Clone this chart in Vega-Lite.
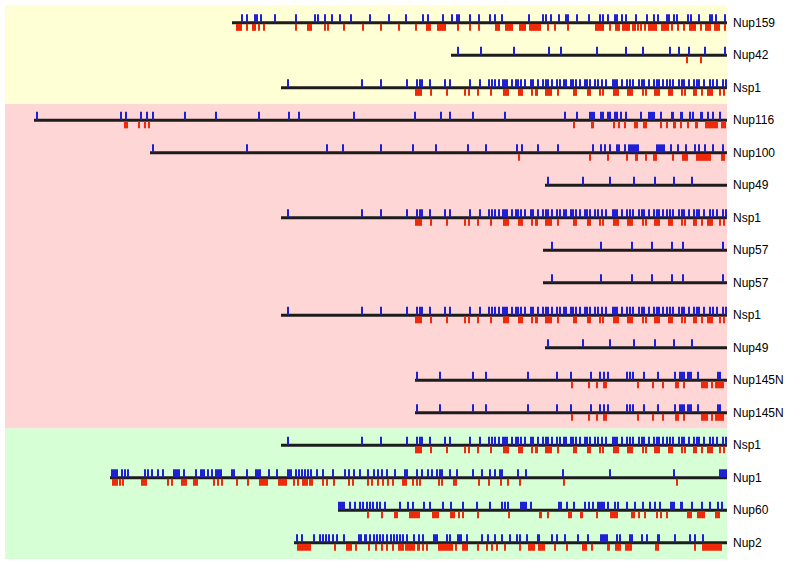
{
"$schema":"https://vega.github.io/schema/vega-lite/v6.json",
"width":722,"height":554,
"autosize":{"type":"none"},
"padding":{"left":5,"top":5,"right":60,"bottom":6},
"background":"white",
"config":{"view":{"stroke":null}},
"datasets":{
"bands":[{"g":"a","from":-0.55,"to":2.5},{"g":"b","from":2.5,"to":12.48},{"g":"c","from":12.48,"to":16.5}],
"proteins":[
{"p":"Nup159","start":232,"end":727,"rows":[0]},
{"p":"Nup42","start":451,"end":727,"rows":[1]},
{"p":"Nsp1","start":281,"end":727,"rows":[2,6,9,13]},
{"p":"Nup116","start":34,"end":727,"rows":[3]},
{"p":"Nup100","start":149.5,"end":727,"rows":[4]},
{"p":"Nup49","start":545,"end":727,"rows":[5,10]},
{"p":"Nup57","start":542.5,"end":727,"rows":[7,8]},
{"p":"Nup145N","start":414.5,"end":727,"rows":[11,12]},
{"p":"Nup1","start":109.5,"end":727,"rows":[14]},
{"p":"Nup60","start":337.5,"end":727,"rows":[15]},
{"p":"Nup2","start":294,"end":727,"rows":[16]}
],
"ticks":[
{"p":"Nup159","k":"b","x":242},{"p":"Nup159","k":"b","x":247.3},{"p":"Nup159","k":"b","x":255.3},{"p":"Nup159","k":"b","x":257.3},{"p":"Nup159","k":"b","x":261.3},{"p":"Nup159","k":"b","x":275.3},{"p":"Nup159","k":"b","x":295.7},{"p":"Nup159","k":"b","x":314.7},{"p":"Nup159","k":"b","x":318},{"p":"Nup159","k":"b","x":324.7},{"p":"Nup159","k":"b","x":332.3},{"p":"Nup159","k":"b","x":340.3},{"p":"Nup159","k":"b","x":350.7},{"p":"Nup159","k":"b","x":369.7},{"p":"Nup159","k":"b","x":388.7},{"p":"Nup159","k":"b","x":405.7},{"p":"Nup159","k":"b","x":423},{"p":"Nup159","k":"b","x":428.3},{"p":"Nup159","k":"b","x":442.7},{"p":"Nup159","k":"b","x":452},{"p":"Nup159","k":"b","x":456.7},{"p":"Nup159","k":"b","x":458.7},{"p":"Nup159","k":"b","x":470.3},{"p":"Nup159","k":"b","x":478.7},{"p":"Nup159","k":"b","x":489.7},{"p":"Nup159","k":"b","x":495.3},{"p":"Nup159","k":"b","x":502.3},{"p":"Nup159","k":"b","x":529},{"p":"Nup159","k":"b","x":543},{"p":"Nup159","k":"b","x":546.3},{"p":"Nup159","k":"b","x":551},{"p":"Nup159","k":"b","x":558.7},{"p":"Nup159","k":"b","x":566.3},{"p":"Nup159","k":"b","x":568},{"p":"Nup159","k":"b","x":577},{"p":"Nup159","k":"b","x":588.7},{"p":"Nup159","k":"b","x":599.7},{"p":"Nup159","k":"b","x":603},{"p":"Nup159","k":"b","x":608},{"p":"Nup159","k":"b","x":614.7},{"p":"Nup159","k":"b","x":616.7},{"p":"Nup159","k":"b","x":622},{"p":"Nup159","k":"b","x":626.3},{"p":"Nup159","k":"b","x":636.3},{"p":"Nup159","k":"b","x":647.3},{"p":"Nup159","k":"b","x":654},{"p":"Nup159","k":"b","x":658.3},{"p":"Nup159","k":"b","x":667.3},{"p":"Nup159","k":"b","x":669.3},{"p":"Nup159","k":"b","x":674},{"p":"Nup159","k":"b","x":677.3},{"p":"Nup159","k":"b","x":688},{"p":"Nup159","k":"b","x":690.7},{"p":"Nup159","k":"b","x":698.7},{"p":"Nup159","k":"b","x":709.7},{"p":"Nup159","k":"b","x":711.7},{"p":"Nup159","k":"b","x":715.7},{"p":"Nup159","k":"b","x":724.7},
{"p":"Nup159","k":"r","x":246.7},{"p":"Nup159","k":"r","x":259},{"p":"Nup159","k":"r","x":264},{"p":"Nup159","k":"r","x":296.3},{"p":"Nup159","k":"r","x":324.7},{"p":"Nup159","k":"r","x":328},{"p":"Nup159","k":"r","x":343.7},{"p":"Nup159","k":"r","x":363},{"p":"Nup159","k":"r","x":381.3},{"p":"Nup159","k":"r","x":399},{"p":"Nup159","k":"r","x":415.7},{"p":"Nup159","k":"r","x":458},{"p":"Nup159","k":"r","x":470.3},{"p":"Nup159","k":"r","x":478.7},{"p":"Nup159","k":"r","x":529.7},{"p":"Nup159","k":"r","x":548},{"p":"Nup159","k":"r","x":555.3},{"p":"Nup159","k":"r","x":568},{"p":"Nup159","k":"r","x":609.7},{"p":"Nup159","k":"r","x":638},{"p":"Nup159","k":"r","x":641.3},{"p":"Nup159","k":"r","x":644.7},{"p":"Nup159","k":"r","x":672},{"p":"Nup159","k":"r","x":678},{"p":"Nup159","k":"r","x":684},{"p":"Nup159","k":"r","x":700.7},{"p":"Nup159","k":"r","x":724.7},
{"p":"Nup159","k":"r","x":236.3,"x2":242},{"p":"Nup159","k":"r","x":252,"x2":256},{"p":"Nup159","k":"r","x":306.7,"x2":312},{"p":"Nup159","k":"r","x":425.7,"x2":430.7},{"p":"Nup159","k":"r","x":437.3,"x2":446.3},{"p":"Nup159","k":"r","x":494.7,"x2":499.7},{"p":"Nup159","k":"r","x":505.3,"x2":513},{"p":"Nup159","k":"r","x":518.7,"x2":526.3},{"p":"Nup159","k":"r","x":531.3,"x2":541.3},{"p":"Nup159","k":"r","x":595.3,"x2":604},{"p":"Nup159","k":"r","x":614.7,"x2":619.7},{"p":"Nup159","k":"r","x":622,"x2":629.7},{"p":"Nup159","k":"r","x":632,"x2":636.3},{"p":"Nup159","k":"r","x":648,"x2":657.3},{"p":"Nup159","k":"r","x":660.7,"x2":668.7},{"p":"Nup159","k":"r","x":688.7,"x2":696.3},{"p":"Nup159","k":"r","x":704.7,"x2":711.3},{"p":"Nup159","k":"r","x":714,"x2":719.7},
{"p":"Nup42","k":"b","x":458},{"p":"Nup42","k":"b","x":480.7},{"p":"Nup42","k":"b","x":514},{"p":"Nup42","k":"b","x":548.7},{"p":"Nup42","k":"b","x":561.3},{"p":"Nup42","k":"b","x":597.3},{"p":"Nup42","k":"b","x":626.3},{"p":"Nup42","k":"b","x":643},{"p":"Nup42","k":"b","x":669.7},{"p":"Nup42","k":"b","x":679},{"p":"Nup42","k":"b","x":689.3},{"p":"Nup42","k":"b","x":705.3},{"p":"Nup42","k":"b","x":725.3},
{"p":"Nup42","k":"r","x":687.3},{"p":"Nup42","k":"r","x":700.7},
{"p":"Nsp1","k":"b","x":288},{"p":"Nsp1","k":"b","x":362.3},{"p":"Nsp1","k":"b","x":380.7},{"p":"Nsp1","k":"b","x":407.3},{"p":"Nsp1","k":"b","x":417.3},{"p":"Nsp1","k":"b","x":419.7},{"p":"Nsp1","k":"b","x":422.3},{"p":"Nsp1","k":"b","x":430.3},{"p":"Nsp1","k":"b","x":444.7},{"p":"Nsp1","k":"b","x":449.7},{"p":"Nsp1","k":"b","x":470.3},{"p":"Nsp1","k":"b","x":480},{"p":"Nsp1","k":"b","x":489.3},{"p":"Nsp1","k":"b","x":492.3},{"p":"Nsp1","k":"b","x":495.3},{"p":"Nsp1","k":"b","x":498.7},{"p":"Nsp1","k":"b","x":502.7},{"p":"Nsp1","k":"b","x":505},{"p":"Nsp1","k":"b","x":507.3},{"p":"Nsp1","k":"b","x":511.7},{"p":"Nsp1","k":"b","x":516},{"p":"Nsp1","k":"b","x":518.3},{"p":"Nsp1","k":"b","x":520.7},{"p":"Nsp1","k":"b","x":525},{"p":"Nsp1","k":"b","x":530.7},{"p":"Nsp1","k":"b","x":533.3},{"p":"Nsp1","k":"b","x":538.3},{"p":"Nsp1","k":"b","x":543.3},{"p":"Nsp1","k":"b","x":545.7},{"p":"Nsp1","k":"b","x":548.3},{"p":"Nsp1","k":"b","x":551.7},{"p":"Nsp1","k":"b","x":556.7},{"p":"Nsp1","k":"b","x":560},{"p":"Nsp1","k":"b","x":564},{"p":"Nsp1","k":"b","x":566},{"p":"Nsp1","k":"b","x":570.7},{"p":"Nsp1","k":"b","x":573.3},{"p":"Nsp1","k":"b","x":576},{"p":"Nsp1","k":"b","x":580},{"p":"Nsp1","k":"b","x":585},{"p":"Nsp1","k":"b","x":587.3},{"p":"Nsp1","k":"b","x":590},{"p":"Nsp1","k":"b","x":595},{"p":"Nsp1","k":"b","x":598.3},{"p":"Nsp1","k":"b","x":601.7},{"p":"Nsp1","k":"b","x":606},{"p":"Nsp1","k":"b","x":612.7},{"p":"Nsp1","k":"b","x":615},{"p":"Nsp1","k":"b","x":617.3},{"p":"Nsp1","k":"b","x":621.7},{"p":"Nsp1","k":"b","x":627.3},{"p":"Nsp1","k":"b","x":630},{"p":"Nsp1","k":"b","x":632.7},{"p":"Nsp1","k":"b","x":639.3},{"p":"Nsp1","k":"b","x":641.7},{"p":"Nsp1","k":"b","x":644},{"p":"Nsp1","k":"b","x":649.3},{"p":"Nsp1","k":"b","x":654},{"p":"Nsp1","k":"b","x":656.7},{"p":"Nsp1","k":"b","x":659.3},{"p":"Nsp1","k":"b","x":663.3},{"p":"Nsp1","k":"b","x":667.3},{"p":"Nsp1","k":"b","x":670},{"p":"Nsp1","k":"b","x":672.7},{"p":"Nsp1","k":"b","x":679.3},{"p":"Nsp1","k":"b","x":681.7},{"p":"Nsp1","k":"b","x":684},{"p":"Nsp1","k":"b","x":689.3},{"p":"Nsp1","k":"b","x":694},{"p":"Nsp1","k":"b","x":696.7},{"p":"Nsp1","k":"b","x":699.3},{"p":"Nsp1","k":"b","x":704},{"p":"Nsp1","k":"b","x":710},{"p":"Nsp1","k":"b","x":712.7},{"p":"Nsp1","k":"b","x":716.7},{"p":"Nsp1","k":"b","x":722.7},{"p":"Nsp1","k":"b","x":726},
{"p":"Nsp1","k":"r","x":431.3},{"p":"Nsp1","k":"r","x":447.3},{"p":"Nsp1","k":"r","x":464.7},{"p":"Nsp1","k":"r","x":468.7},{"p":"Nsp1","k":"r","x":478},{"p":"Nsp1","k":"r","x":491.3},{"p":"Nsp1","k":"r","x":531.7},{"p":"Nsp1","k":"r","x":558.3},{"p":"Nsp1","k":"r","x":600},{"p":"Nsp1","k":"r","x":603.3},{"p":"Nsp1","k":"r","x":642.7},{"p":"Nsp1","k":"r","x":646},{"p":"Nsp1","k":"r","x":681.7},{"p":"Nsp1","k":"r","x":685},{"p":"Nsp1","k":"r","x":701.7},{"p":"Nsp1","k":"r","x":720},{"p":"Nsp1","k":"r","x":724},
{"p":"Nsp1","k":"r","x":415.3,"x2":422},{"p":"Nsp1","k":"r","x":503.3,"x2":509.3},{"p":"Nsp1","k":"r","x":518.3,"x2":522.7},{"p":"Nsp1","k":"r","x":534.5,"x2":538},{"p":"Nsp1","k":"r","x":545,"x2":551.7},{"p":"Nsp1","k":"r","x":572.7,"x2":577.3},{"p":"Nsp1","k":"r","x":587.3,"x2":590.7},{"p":"Nsp1","k":"r","x":613.3,"x2":619.3},{"p":"Nsp1","k":"r","x":627.3,"x2":633.3},{"p":"Nsp1","k":"r","x":654,"x2":660},{"p":"Nsp1","k":"r","x":668.3,"x2":673.3},{"p":"Nsp1","k":"r","x":693.3,"x2":696.7},{"p":"Nsp1","k":"r","x":707.3,"x2":713.3},
{"p":"Nup116","k":"b","x":37.3},{"p":"Nup116","k":"b","x":120.7},{"p":"Nup116","k":"b","x":126.3},{"p":"Nup116","k":"b","x":140.7},{"p":"Nup116","k":"b","x":146.7},{"p":"Nup116","k":"b","x":152.7},{"p":"Nup116","k":"b","x":184.7},{"p":"Nup116","k":"b","x":216},{"p":"Nup116","k":"b","x":259},{"p":"Nup116","k":"b","x":288.7},{"p":"Nup116","k":"b","x":298.7},{"p":"Nup116","k":"b","x":353.7},{"p":"Nup116","k":"b","x":414.7},{"p":"Nup116","k":"b","x":441.3},{"p":"Nup116","k":"b","x":449.7},{"p":"Nup116","k":"b","x":473},{"p":"Nup116","k":"b","x":504.7},{"p":"Nup116","k":"b","x":564.7},{"p":"Nup116","k":"b","x":577},{"p":"Nup116","k":"b","x":600.7},{"p":"Nup116","k":"b","x":603},{"p":"Nup116","k":"b","x":608},{"p":"Nup116","k":"b","x":610.3},{"p":"Nup116","k":"b","x":615.3},{"p":"Nup116","k":"b","x":617.3},{"p":"Nup116","k":"b","x":620.7},{"p":"Nup116","k":"b","x":626.3},{"p":"Nup116","k":"b","x":641.3},{"p":"Nup116","k":"b","x":661.3},{"p":"Nup116","k":"b","x":689.7},{"p":"Nup116","k":"b","x":693},{"p":"Nup116","k":"b","x":708},{"p":"Nup116","k":"b","x":713},{"p":"Nup116","k":"b","x":719.7},
{"p":"Nup116","k":"b","x":588.7,"x2":594.7},{"p":"Nup116","k":"b","x":648,"x2":654.7},{"p":"Nup116","k":"b","x":670.5,"x2":673.5},{"p":"Nup116","k":"b","x":679.7,"x2":683},{"p":"Nup116","k":"b","x":699.7,"x2":703},
{"p":"Nup116","k":"r","x":139.3},{"p":"Nup116","k":"r","x":144.7},{"p":"Nup116","k":"r","x":148.7},{"p":"Nup116","k":"r","x":574},{"p":"Nup116","k":"r","x":614},{"p":"Nup116","k":"r","x":618.7},{"p":"Nup116","k":"r","x":624.7},{"p":"Nup116","k":"r","x":660.7},{"p":"Nup116","k":"r","x":667.3},{"p":"Nup116","k":"r","x":681.3},{"p":"Nup116","k":"r","x":688},
{"p":"Nup116","k":"r","x":124,"x2":128},{"p":"Nup116","k":"r","x":591.3,"x2":594},{"p":"Nup116","k":"r","x":634,"x2":638},{"p":"Nup116","k":"r","x":643,"x2":647.3},{"p":"Nup116","k":"r","x":673,"x2":676.3},{"p":"Nup116","k":"r","x":695.3,"x2":698},{"p":"Nup116","k":"r","x":704.7,"x2":718},{"p":"Nup116","k":"r","x":721.3,"x2":726.3},
{"p":"Nup100","k":"b","x":153},{"p":"Nup100","k":"b","x":247.3},{"p":"Nup100","k":"b","x":327},{"p":"Nup100","k":"b","x":342.7},{"p":"Nup100","k":"b","x":380.7},{"p":"Nup100","k":"b","x":413},{"p":"Nup100","k":"b","x":436.3},{"p":"Nup100","k":"b","x":468},{"p":"Nup100","k":"b","x":485.7},{"p":"Nup100","k":"b","x":517.3},{"p":"Nup100","k":"b","x":522},{"p":"Nup100","k":"b","x":538},{"p":"Nup100","k":"b","x":558},{"p":"Nup100","k":"b","x":593},{"p":"Nup100","k":"b","x":601.3},{"p":"Nup100","k":"b","x":605.3},{"p":"Nup100","k":"b","x":609.7},{"p":"Nup100","k":"b","x":624.7},{"p":"Nup100","k":"b","x":671.3},{"p":"Nup100","k":"b","x":678},{"p":"Nup100","k":"b","x":685.7},{"p":"Nup100","k":"b","x":694.7},{"p":"Nup100","k":"b","x":698.7},{"p":"Nup100","k":"b","x":704.7},{"p":"Nup100","k":"b","x":713},{"p":"Nup100","k":"b","x":723},
{"p":"Nup100","k":"b","x":616.3,"x2":619.7},{"p":"Nup100","k":"b","x":628,"x2":638.7},{"p":"Nup100","k":"b","x":656.3,"x2":665.3},
{"p":"Nup100","k":"r","x":519},{"p":"Nup100","k":"r","x":589.7},{"p":"Nup100","k":"r","x":608},{"p":"Nup100","k":"r","x":627.3},{"p":"Nup100","k":"r","x":645.7},{"p":"Nup100","k":"r","x":673},
{"p":"Nup100","k":"r","x":634.7,"x2":638},{"p":"Nup100","k":"r","x":653,"x2":657.3},{"p":"Nup100","k":"r","x":682,"x2":688},{"p":"Nup100","k":"r","x":696.3,"x2":711.3},{"p":"Nup100","k":"r","x":721.3,"x2":724.7},
{"p":"Nup49","k":"b","x":548.3},{"p":"Nup49","k":"b","x":582.7},{"p":"Nup49","k":"b","x":610},{"p":"Nup49","k":"b","x":634},{"p":"Nup49","k":"b","x":655},{"p":"Nup49","k":"b","x":674.3},{"p":"Nup49","k":"b","x":691.7},
{"p":"Nup57","k":"b","x":552.3},{"p":"Nup57","k":"b","x":600.7},{"p":"Nup57","k":"b","x":632.3},{"p":"Nup57","k":"b","x":651.7},{"p":"Nup57","k":"b","x":672.3},{"p":"Nup57","k":"b","x":683.3},{"p":"Nup57","k":"b","x":722.7},
{"p":"Nup145N","k":"b","x":416.7},{"p":"Nup145N","k":"b","x":440},{"p":"Nup145N","k":"b","x":472.7},{"p":"Nup145N","k":"b","x":486},{"p":"Nup145N","k":"b","x":527.7},{"p":"Nup145N","k":"b","x":556.7},{"p":"Nup145N","k":"b","x":570.7},{"p":"Nup145N","k":"b","x":591},{"p":"Nup145N","k":"b","x":600},{"p":"Nup145N","k":"b","x":604.3},{"p":"Nup145N","k":"b","x":608.3},{"p":"Nup145N","k":"b","x":626.7},{"p":"Nup145N","k":"b","x":630},{"p":"Nup145N","k":"b","x":633.3},{"p":"Nup145N","k":"b","x":644},{"p":"Nup145N","k":"b","x":657.7},{"p":"Nup145N","k":"b","x":675},{"p":"Nup145N","k":"b","x":698.3},
{"p":"Nup145N","k":"b","x":679.3,"x2":685},{"p":"Nup145N","k":"b","x":686.7,"x2":691.7},{"p":"Nup145N","k":"b","x":716.7,"x2":720.7},
{"p":"Nup145N","k":"r","x":572.3},{"p":"Nup145N","k":"r","x":589},{"p":"Nup145N","k":"r","x":597.3},{"p":"Nup145N","k":"r","x":638.3},{"p":"Nup145N","k":"r","x":653.3},{"p":"Nup145N","k":"r","x":663.3},{"p":"Nup145N","k":"r","x":684},{"p":"Nup145N","k":"r","x":711.7},
{"p":"Nup145N","k":"r","x":602.7,"x2":607.3},{"p":"Nup145N","k":"r","x":675,"x2":679.3},{"p":"Nup145N","k":"r","x":700.7,"x2":708.3},{"p":"Nup145N","k":"r","x":715,"x2":724},
{"p":"Nup1","k":"b","x":122.3},{"p":"Nup1","k":"b","x":125},{"p":"Nup1","k":"b","x":128.3},{"p":"Nup1","k":"b","x":145},{"p":"Nup1","k":"b","x":148.3},{"p":"Nup1","k":"b","x":151.7},{"p":"Nup1","k":"b","x":157.7},{"p":"Nup1","k":"b","x":163.3},{"p":"Nup1","k":"b","x":179},{"p":"Nup1","k":"b","x":184.3},{"p":"Nup1","k":"b","x":196},{"p":"Nup1","k":"b","x":208.3},{"p":"Nup1","k":"b","x":211.7},{"p":"Nup1","k":"b","x":246.7},{"p":"Nup1","k":"b","x":269},{"p":"Nup1","k":"b","x":276.7},{"p":"Nup1","k":"b","x":295.7},{"p":"Nup1","k":"b","x":299},{"p":"Nup1","k":"b","x":302.3},{"p":"Nup1","k":"b","x":305},{"p":"Nup1","k":"b","x":307.7},{"p":"Nup1","k":"b","x":311},{"p":"Nup1","k":"b","x":316.7},{"p":"Nup1","k":"b","x":323.3},{"p":"Nup1","k":"b","x":332.7},{"p":"Nup1","k":"b","x":345},{"p":"Nup1","k":"b","x":349},{"p":"Nup1","k":"b","x":354.3},{"p":"Nup1","k":"b","x":360},{"p":"Nup1","k":"b","x":368.3},{"p":"Nup1","k":"b","x":374.3},{"p":"Nup1","k":"b","x":378.3},{"p":"Nup1","k":"b","x":381.7},{"p":"Nup1","k":"b","x":387.3},{"p":"Nup1","k":"b","x":395},{"p":"Nup1","k":"b","x":416.7},{"p":"Nup1","k":"b","x":421.7},{"p":"Nup1","k":"b","x":428.3},{"p":"Nup1","k":"b","x":431.7},{"p":"Nup1","k":"b","x":436.7},{"p":"Nup1","k":"b","x":440},{"p":"Nup1","k":"b","x":441.7},{"p":"Nup1","k":"b","x":450},{"p":"Nup1","k":"b","x":456.7},{"p":"Nup1","k":"b","x":473.3},{"p":"Nup1","k":"b","x":481.7},{"p":"Nup1","k":"b","x":490},{"p":"Nup1","k":"b","x":495},{"p":"Nup1","k":"b","x":517.7},{"p":"Nup1","k":"b","x":525.7},{"p":"Nup1","k":"b","x":563.3},{"p":"Nup1","k":"b","x":610},{"p":"Nup1","k":"b","x":674.3},
{"p":"Nup1","k":"b","x":111,"x2":117.7},{"p":"Nup1","k":"b","x":173.3,"x2":177.7},{"p":"Nup1","k":"b","x":200,"x2":205},{"p":"Nup1","k":"b","x":215,"x2":221.7},{"p":"Nup1","k":"b","x":231,"x2":235},{"p":"Nup1","k":"b","x":255,"x2":261},{"p":"Nup1","k":"b","x":286.7,"x2":291.7},{"p":"Nup1","k":"b","x":404.3,"x2":408.3},{"p":"Nup1","k":"b","x":499.5,"x2":503},{"p":"Nup1","k":"b","x":719,"x2":727},
{"p":"Nup1","k":"r","x":120},{"p":"Nup1","k":"r","x":123.3},{"p":"Nup1","k":"r","x":167.7},{"p":"Nup1","k":"r","x":171.7},{"p":"Nup1","k":"r","x":214.3},{"p":"Nup1","k":"r","x":217.7},{"p":"Nup1","k":"r","x":222.3},{"p":"Nup1","k":"r","x":236.7},{"p":"Nup1","k":"r","x":247.7},{"p":"Nup1","k":"r","x":294.3},{"p":"Nup1","k":"r","x":298.3},{"p":"Nup1","k":"r","x":323.3},{"p":"Nup1","k":"r","x":326.7},{"p":"Nup1","k":"r","x":334.3},{"p":"Nup1","k":"r","x":349},{"p":"Nup1","k":"r","x":353.3},{"p":"Nup1","k":"r","x":368.3},{"p":"Nup1","k":"r","x":371.7},{"p":"Nup1","k":"r","x":377.7},{"p":"Nup1","k":"r","x":383.3},{"p":"Nup1","k":"r","x":388.3},{"p":"Nup1","k":"r","x":393.3},{"p":"Nup1","k":"r","x":413.3},{"p":"Nup1","k":"r","x":416.7},{"p":"Nup1","k":"r","x":420},{"p":"Nup1","k":"r","x":439},{"p":"Nup1","k":"r","x":441.7},{"p":"Nup1","k":"r","x":479.3},{"p":"Nup1","k":"r","x":489},{"p":"Nup1","k":"r","x":501},{"p":"Nup1","k":"r","x":508.3},{"p":"Nup1","k":"r","x":520},{"p":"Nup1","k":"r","x":564.3},{"p":"Nup1","k":"r","x":676.7},
{"p":"Nup1","k":"r","x":111.7,"x2":117.7},{"p":"Nup1","k":"r","x":141,"x2":146.7},{"p":"Nup1","k":"r","x":181,"x2":186.7},{"p":"Nup1","k":"r","x":193.3,"x2":198.3},{"p":"Nup1","k":"r","x":259,"x2":267.7},{"p":"Nup1","k":"r","x":277.7,"x2":286.7},{"p":"Nup1","k":"r","x":302.3,"x2":307.7},{"p":"Nup1","k":"r","x":309,"x2":313.3},{"p":"Nup1","k":"r","x":401.7,"x2":406.7},{"p":"Nup1","k":"r","x":453.3,"x2":456.7},
{"p":"Nup60","k":"b","x":350},{"p":"Nup60","k":"b","x":355},{"p":"Nup60","k":"b","x":360},{"p":"Nup60","k":"b","x":363.3},{"p":"Nup60","k":"b","x":366.7},{"p":"Nup60","k":"b","x":370},{"p":"Nup60","k":"b","x":373.3},{"p":"Nup60","k":"b","x":376.7},{"p":"Nup60","k":"b","x":380},{"p":"Nup60","k":"b","x":385},{"p":"Nup60","k":"b","x":400},{"p":"Nup60","k":"b","x":408.3},{"p":"Nup60","k":"b","x":412.7},{"p":"Nup60","k":"b","x":424.3},{"p":"Nup60","k":"b","x":430},{"p":"Nup60","k":"b","x":443.3},{"p":"Nup60","k":"b","x":451},{"p":"Nup60","k":"b","x":463.3},{"p":"Nup60","k":"b","x":476.7},{"p":"Nup60","k":"b","x":490},{"p":"Nup60","k":"b","x":501.7},{"p":"Nup60","k":"b","x":505},{"p":"Nup60","k":"b","x":508.3},{"p":"Nup60","k":"b","x":531},{"p":"Nup60","k":"b","x":566.7},{"p":"Nup60","k":"b","x":574.3},{"p":"Nup60","k":"b","x":585},{"p":"Nup60","k":"b","x":589},{"p":"Nup60","k":"b","x":593.3},{"p":"Nup60","k":"b","x":607.7},{"p":"Nup60","k":"b","x":615},{"p":"Nup60","k":"b","x":618.3},{"p":"Nup60","k":"b","x":626.7},{"p":"Nup60","k":"b","x":635},{"p":"Nup60","k":"b","x":643.3},{"p":"Nup60","k":"b","x":650},{"p":"Nup60","k":"b","x":655},{"p":"Nup60","k":"b","x":660},{"p":"Nup60","k":"b","x":691.7},{"p":"Nup60","k":"b","x":701.7},{"p":"Nup60","k":"b","x":710},{"p":"Nup60","k":"b","x":718.3},{"p":"Nup60","k":"b","x":721.7},
{"p":"Nup60","k":"b","x":338.3,"x2":345},{"p":"Nup60","k":"b","x":520,"x2":526.7},{"p":"Nup60","k":"b","x":557.7,"x2":561.7},{"p":"Nup60","k":"b","x":596.7,"x2":605},{"p":"Nup60","k":"b","x":670,"x2":675},{"p":"Nup60","k":"b","x":680,"x2":683.3},
{"p":"Nup60","k":"r","x":368.3},{"p":"Nup60","k":"r","x":381.7},{"p":"Nup60","k":"r","x":459},{"p":"Nup60","k":"r","x":463.3},{"p":"Nup60","k":"r","x":478.3},{"p":"Nup60","k":"r","x":509},{"p":"Nup60","k":"r","x":548.3},{"p":"Nup60","k":"r","x":596.7},{"p":"Nup60","k":"r","x":639},{"p":"Nup60","k":"r","x":645},{"p":"Nup60","k":"r","x":656.7},{"p":"Nup60","k":"r","x":661},{"p":"Nup60","k":"r","x":666.7},
{"p":"Nup60","k":"r","x":394.3,"x2":398.3},{"p":"Nup60","k":"r","x":409,"x2":420},{"p":"Nup60","k":"r","x":431.7,"x2":439},{"p":"Nup60","k":"r","x":450,"x2":455},{"p":"Nup60","k":"r","x":539,"x2":542.3},{"p":"Nup60","k":"r","x":567.7,"x2":572.3},{"p":"Nup60","k":"r","x":580,"x2":583.3},{"p":"Nup60","k":"r","x":610,"x2":618.3},{"p":"Nup60","k":"r","x":631,"x2":635},{"p":"Nup60","k":"r","x":686.7,"x2":691.7},{"p":"Nup60","k":"r","x":696.7,"x2":705},{"p":"Nup60","k":"r","x":715,"x2":720},
{"p":"Nup2","k":"b","x":296.7},{"p":"Nup2","k":"b","x":301.7},{"p":"Nup2","k":"b","x":314},{"p":"Nup2","k":"b","x":320},{"p":"Nup2","k":"b","x":322.7},{"p":"Nup2","k":"b","x":326},{"p":"Nup2","k":"b","x":329.3},{"p":"Nup2","k":"b","x":332.7},{"p":"Nup2","k":"b","x":336.7},{"p":"Nup2","k":"b","x":344},{"p":"Nup2","k":"b","x":370},{"p":"Nup2","k":"b","x":374},{"p":"Nup2","k":"b","x":377.3},{"p":"Nup2","k":"b","x":380},{"p":"Nup2","k":"b","x":383.3},{"p":"Nup2","k":"b","x":387.3},{"p":"Nup2","k":"b","x":390.7},{"p":"Nup2","k":"b","x":394},{"p":"Nup2","k":"b","x":396.7},{"p":"Nup2","k":"b","x":400},{"p":"Nup2","k":"b","x":403.3},{"p":"Nup2","k":"b","x":406.7},{"p":"Nup2","k":"b","x":414},{"p":"Nup2","k":"b","x":419.3},{"p":"Nup2","k":"b","x":423.3},{"p":"Nup2","k":"b","x":446.7},{"p":"Nup2","k":"b","x":450},{"p":"Nup2","k":"b","x":466.7},{"p":"Nup2","k":"b","x":481.7},{"p":"Nup2","k":"b","x":488.3},{"p":"Nup2","k":"b","x":495},{"p":"Nup2","k":"b","x":501.7},{"p":"Nup2","k":"b","x":510},{"p":"Nup2","k":"b","x":516.7},{"p":"Nup2","k":"b","x":520},{"p":"Nup2","k":"b","x":527.3},{"p":"Nup2","k":"b","x":551.7},{"p":"Nup2","k":"b","x":556.7},{"p":"Nup2","k":"b","x":565},{"p":"Nup2","k":"b","x":578.3},{"p":"Nup2","k":"b","x":588.3},{"p":"Nup2","k":"b","x":616.7},{"p":"Nup2","k":"b","x":620},{"p":"Nup2","k":"b","x":641.7},{"p":"Nup2","k":"b","x":646.7},{"p":"Nup2","k":"b","x":675},{"p":"Nup2","k":"b","x":690},{"p":"Nup2","k":"b","x":695},{"p":"Nup2","k":"b","x":703.3},
{"p":"Nup2","k":"b","x":358.3,"x2":361.7},{"p":"Nup2","k":"b","x":364,"x2":367.3},{"p":"Nup2","k":"b","x":432.7,"x2":438.3},{"p":"Nup2","k":"b","x":456.7,"x2":461.7},{"p":"Nup2","k":"b","x":536.7,"x2":540},{"p":"Nup2","k":"b","x":600,"x2":608.3},{"p":"Nup2","k":"b","x":629.3,"x2":632.7},{"p":"Nup2","k":"b","x":656.7,"x2":660},
{"p":"Nup2","k":"r","x":335},{"p":"Nup2","k":"r","x":356},{"p":"Nup2","k":"r","x":369.3},{"p":"Nup2","k":"r","x":376},{"p":"Nup2","k":"r","x":381.7},{"p":"Nup2","k":"r","x":386.7},{"p":"Nup2","k":"r","x":393.3},{"p":"Nup2","k":"r","x":423.3},{"p":"Nup2","k":"r","x":426.7},{"p":"Nup2","k":"r","x":456},{"p":"Nup2","k":"r","x":478.3},{"p":"Nup2","k":"r","x":486.7},{"p":"Nup2","k":"r","x":491.7},{"p":"Nup2","k":"r","x":496.7},{"p":"Nup2","k":"r","x":505},{"p":"Nup2","k":"r","x":520},{"p":"Nup2","k":"r","x":555},{"p":"Nup2","k":"r","x":566.7},{"p":"Nup2","k":"r","x":591.7},{"p":"Nup2","k":"r","x":695},
{"p":"Nup2","k":"r","x":297.3,"x2":310.7},{"p":"Nup2","k":"r","x":346,"x2":351.7},{"p":"Nup2","k":"r","x":398.3,"x2":404},{"p":"Nup2","k":"r","x":405,"x2":415},{"p":"Nup2","k":"r","x":416.7,"x2":420},{"p":"Nup2","k":"r","x":438.3,"x2":453.3},{"p":"Nup2","k":"r","x":461.7,"x2":468.3},{"p":"Nup2","k":"r","x":528.3,"x2":535},{"p":"Nup2","k":"r","x":538.3,"x2":545},{"p":"Nup2","k":"r","x":581.7,"x2":586.7},{"p":"Nup2","k":"r","x":606.7,"x2":610},{"p":"Nup2","k":"r","x":615,"x2":620.7},{"p":"Nup2","k":"r","x":625,"x2":631.7},{"p":"Nup2","k":"r","x":655,"x2":659.3},{"p":"Nup2","k":"r","x":701.7,"x2":721.7}
]},
"layer":[
{"data":{"name":"bands"},"mark":{"type":"rect"},
 "encoding":{
  "x":{"datum":5,"type":"quantitative","scale":{"domain":[5,727],"nice":false,"zero":false,"round":true},"axis":null},
  "x2":{"datum":727},
  "y":{"field":"from","type":"quantitative","scale":{"domain":[-0.55,16.5],"reverse":true,"nice":false,"zero":false},"axis":null},
  "y2":{"field":"to"},
  "color":{"field":"g","type":"nominal","scale":{"domain":["a","b","c"],"range":["#ffffd6","#ffd6d6","#d6ffd6"]},"legend":null}}},
{"data":{"name":"proteins"},"transform":[{"flatten":["rows"]}],
 "mark":{"type":"rule","strokeWidth":3,"color":"#1c1c1c"},
 "encoding":{"x":{"field":"start","type":"quantitative"},"x2":{"field":"end"},"y":{"field":"rows","type":"quantitative"}}},
{"data":{"name":"proteins"},"transform":[{"flatten":["rows"]}],
 "mark":{"type":"text","align":"left","baseline":"middle","dx":6,"fontSize":12,"font":"Liberation Sans","color":"#000000"},
 "encoding":{"x":{"field":"end","type":"quantitative"},"y":{"field":"rows","type":"quantitative"},"text":{"field":"p"}}},
{"data":{"name":"ticks"},"transform":[{"lookup":"p","from":{"data":{"name":"proteins"},"key":"p","fields":["rows"]}},{"flatten":["rows"]},{"filter":"datum.k=='b' && datum.x2==null"}],
 "mark":{"type":"tick","orient":"vertical","thickness":2,"size":8,"yOffset":-4.5,"opacity":1,"color":"#1f1fd6"},
 "encoding":{"x":{"field":"x","type":"quantitative"},"y":{"field":"rows","type":"quantitative"}}},
{"data":{"name":"ticks"},"transform":[{"lookup":"p","from":{"data":{"name":"proteins"},"key":"p","fields":["rows"]}},{"flatten":["rows"]},{"filter":"datum.k=='b' && datum.x2!=null"}],
 "mark":{"type":"rule","strokeWidth":8,"yOffset":-4.5,"opacity":1,"color":"#1f1fd6"},
 "encoding":{"x":{"field":"x","type":"quantitative"},"x2":{"field":"x2"},"y":{"field":"rows","type":"quantitative"}}},
{"data":{"name":"ticks"},"transform":[{"lookup":"p","from":{"data":{"name":"proteins"},"key":"p","fields":["rows"]}},{"flatten":["rows"]},{"filter":"datum.k=='r' && datum.x2==null"}],
 "mark":{"type":"tick","orient":"vertical","thickness":2,"size":7,"yOffset":4.5,"opacity":1,"color":"#ee2a0a"},
 "encoding":{"x":{"field":"x","type":"quantitative"},"y":{"field":"rows","type":"quantitative"}}},
{"data":{"name":"ticks"},"transform":[{"lookup":"p","from":{"data":{"name":"proteins"},"key":"p","fields":["rows"]}},{"flatten":["rows"]},{"filter":"datum.k=='r' && datum.x2!=null"}],
 "mark":{"type":"rule","strokeWidth":7,"yOffset":4.5,"opacity":1,"color":"#ee2a0a"},
 "encoding":{"x":{"field":"x","type":"quantitative"},"x2":{"field":"x2"},"y":{"field":"rows","type":"quantitative"}}}
]
}
